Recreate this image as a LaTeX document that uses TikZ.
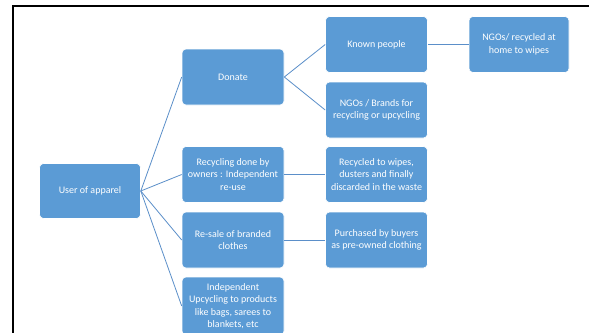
\documentclass[tikz,border=0pt]{standalone}
\usepackage{fontspec}
\setmainfont{Carlito}
\definecolor{boxblue}{HTML}{5B9BD5}
\definecolor{lineblue}{HTML}{5B8FC9}
\begin{document}
\begin{tikzpicture}[x=1pt,y=-1pt,
  box/.style={draw=white, line width=0.6pt, fill=boxblue, rounded corners=4pt,
    minimum width=102pt, minimum height=56pt, text=white, align=center,
    font=\fontsize{10}{12.5}\selectfont, inner sep=1pt},
  link/.style={draw=lineblue, line width=0.8pt}]
\useasboundingbox (0,0) rectangle (589,332);
\clip (0,0) rectangle (589,332);
\fill[white] (0,0) rectangle (589,332);
\draw[line width=1.6pt] (13,340) -- (13,6) -- (600,6);
\node[box, minimum width=101pt, minimum height=55pt] (user) at (90,191) {User of apparel};
\node[box] (donate) at (233,77) {Donate};
\node[box] (recyc) at (233,174.5) {Recycling done by\\owners : Independent\\re-use};
\node[box] (resale) at (233,240) {Re-sale of branded\\clothes};
\node[box, minimum height=58pt] (upcyc) at (233,306) {Independent\\Upcycling to products\\like bags, sarees to\\blankets, etc};
\node[box] (known) at (376.5,44.5) {Known people};
\node[box] (ngob) at (376.5,110) {NGOs / Brands for\\recycling or upcycling};
\node[box] (wipes) at (376.5,174.5) {Recycled to wipes,\\dusters and finally\\discarded in the waste};
\node[box] (buyers) at (376.5,240) {Purchased by buyers\\as pre-owned clothing};
\node[box, minimum width=100pt] (home) at (519,44.5) {NGOs/ recycled at\\home to wipes};
\draw[link] (user.east) -- (donate.west);
\draw[link] (user.east) -- (recyc.west);
\draw[link] (user.east) -- (resale.west);
\draw[link] (user.east) -- (upcyc.west);
\draw[link] (donate.east) -- (known.west);
\draw[link] (donate.east) -- (ngob.west);
\draw[link] (recyc.east) -- (wipes.west);
\draw[link] (resale.east) -- (buyers.west);
\draw[link] (known.east) -- (home.west);
\end{tikzpicture}
\end{document}
